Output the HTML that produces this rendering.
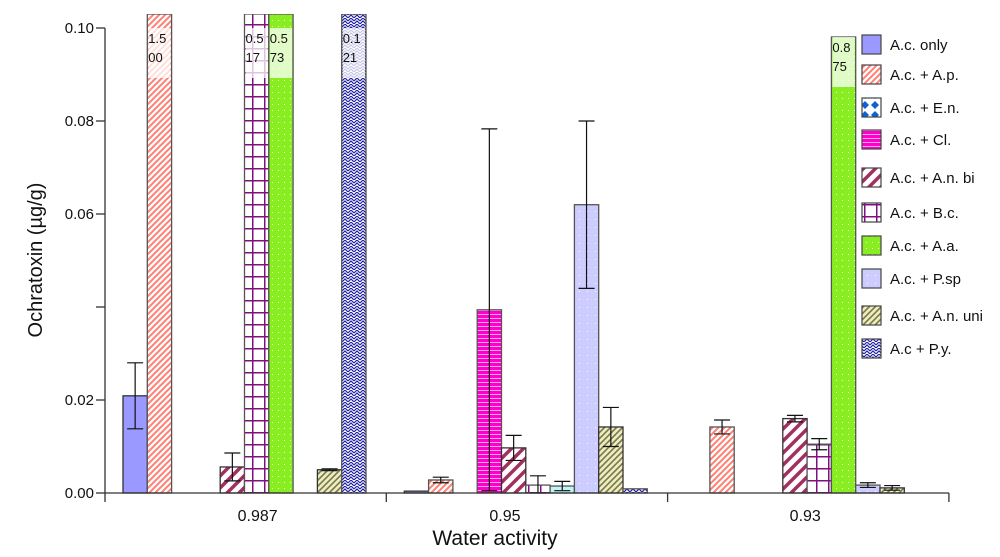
<!DOCTYPE html>
<html><head><meta charset="utf-8"><style>
body{margin:0;background:#fff;}
svg text{font-family:"Liberation Sans",sans-serif;fill:#111;}
</style></head><body>
<svg id="chart" width="1000" height="552" viewBox="0 0 1000 552" xmlns="http://www.w3.org/2000/svg">
<defs>
<pattern id="p0" width="6" height="6" patternUnits="userSpaceOnUse"><rect width="6" height="6" fill="#9999ff"/></pattern>
<pattern id="p1" width="6" height="6" patternUnits="userSpaceOnUse"><rect width="6" height="6" fill="#fff"/><path d="M-1,1 L1,-1 M0,6 L6,0 M5,7 L7,5" stroke="#ff7f73" stroke-width="2"/></pattern>
<pattern id="p2" width="10" height="10" patternUnits="userSpaceOnUse"><rect width="10" height="10" fill="#fff"/><path d="M5,1 L9,5 L5,9 L1,5Z" fill="#1060d0"/></pattern>
<pattern id="p3" width="6" height="4" patternUnits="userSpaceOnUse"><rect width="6" height="4" fill="#ff00cc"/><rect y="2" width="6" height="1" fill="#ffaaee"/></pattern>
<pattern id="p4" width="12" height="12" patternUnits="userSpaceOnUse"><rect width="12" height="12" fill="#fff"/><path d="M-3,3 L3,-3 M0,12 L12,0 M9,15 L15,9" stroke="#a03060" stroke-width="3.5"/></pattern>
<pattern id="p5" width="12" height="12" patternUnits="userSpaceOnUse"><rect width="12" height="12" fill="#fff"/><path d="M0,0.75 H12 M0.75,0 V12" stroke="#801080" stroke-width="1.5"/></pattern>
<pattern id="p6" width="6" height="6" patternUnits="userSpaceOnUse"><rect width="6" height="6" fill="#88ee22"/><rect x="2" y="2" width="1" height="1" fill="#eaffd0"/></pattern>
<pattern id="p7" width="8" height="8" patternUnits="userSpaceOnUse"><rect width="8" height="8" fill="#ccccff"/><rect x="3" y="3" width="1" height="1" fill="#fff"/></pattern>
<pattern id="p8" width="6" height="6" patternUnits="userSpaceOnUse"><rect width="6" height="6" fill="#eeeebb"/><path d="M-1,1 L1,-1 M0,6 L6,0 M5,7 L7,5" stroke="#777755" stroke-width="1.6"/></pattern>
<pattern id="p9" width="6" height="6" patternUnits="userSpaceOnUse"><rect width="6" height="6" fill="#fff"/><path d="M0,3 L3,0 L6,3 M0,6 L3,3 L6,6" stroke="#2020a0" stroke-width="1.2" fill="none"/></pattern>
<pattern id="pcyan" width="6" height="6" patternUnits="userSpaceOnUse"><rect width="6" height="6" fill="#bff5f5"/></pattern>
<clipPath id="clip"><rect x="105" y="14" width="850" height="480"/></clipPath>
</defs>
<g id="bars" clip-path="url(#clip)"></g>
<g id="axes"></g>
<g id="legend"></g>
<text x="42" y="260" font-size="20" text-anchor="middle" transform="rotate(-90 42 260)">Ochratoxin (µg/g)</text>
<text x="495" y="545" font-size="21" text-anchor="middle">Water activity</text>
</svg>
<script>
const categories = ["0.987", "0.95", "0.93"];
const series = ["A.c. only","A.c. + A.p.","A.c. + E.n.","A.c. + Cl.","A.c. + A.n. bi","A.c. + B.c.","A.c. + A.a.","A.c. + P.sp","A.c. + A.n. uni","A.c + P.y."];
const values987 = [0.0209, 1.500, 0, 0, 0.0056, 0.517, 0.573, 0, 0.0050, 0.121];
const errors987 = [0.0071, 0, 0, 0, 0.0030, 0, 0, 0, 0.0002, 0];
const values95 = [0.0004, 0.0028, 0, 0.0394, 0.0097, 0.0017, 0.0015, 0.0620, 0.0142, 0.0009];
const errors95 = [0, 0.0006, 0, 0.0389, 0.0027, 0.0020, 0.0010, 0.0180, 0.0042, 0];
const values93 = [0, 0.0142, 0, 0, 0.0160, 0.0105, 0.875, 0.0017, 0.0011, 0];
const errors93 = [0, 0.0015, 0, 0, 0.0007, 0.0012, 0, 0.0005, 0.0005, 0];
const yTicks = [0, 0.02, 0.04, 0.06, 0.08, 0.10];
const yTickLabels = ["0.00", "0.02", "", "0.06", "0.08", "0.10"];

const NS = "http://www.w3.org/2000/svg";
const Y0 = 493, YTOP = 28, YMAX = 0.10;
const y = v => Y0 - (v / YMAX) * (Y0 - YTOP);
const GX0 = 105, GW = 281.3, BW = 24.3, BOFF = 18;
const bx = (g, s) => GX0 + g * GW + BOFF + s * BW;
const fills = ["p0","p1","p2","p3","p4","p5","p6","p7","p8","p9"];
const strokes = ["#333","#555","#333","#555","#333","#555","#555","#555","#333","#555"];
function mk(tag, attrs, parent){const e=document.createElementNS(NS,tag);for(const k in attrs)e.setAttribute(k,attrs[k]);parent.appendChild(e);return e;}
const barsG = document.getElementById('bars'), axesG = document.getElementById('axes'), legG = document.getElementById('legend');
const allVals = [values987, values95, values93], allErr = [errors987, errors95, errors93];

allVals.forEach((vals, g) => {
  vals.forEach((v, s) => {
    if (v <= 0) return;
    const x = bx(g, s);
    let fill = fills[s];
    if (g === 1 && s === 6) fill = "pcyan";
    const top = Math.max(y(v), 14);
    const r = mk('rect', {x: x, y: top, width: BW, height: Y0 - top, fill: 'url(#' + fill + ')', stroke: strokes[s], 'stroke-width': 1.3}, barsG);
    
    
    if (v > YMAX) {
      const ly = (g === 2) ? 37 : 28;
      const top2 = g === 2 ? ly : 14;
      r.setAttribute('y', top2); r.setAttribute('height', Y0 - top2);
      mk('rect', {x: x + 1, y: ly, width: BW - 2, height: 50, fill: '#fff', opacity: 0.75}, barsG);
      const s1 = v.toFixed(3);
      const t1 = mk('text', {x: x + 1, y: ly + 15, 'font-size': 13}, barsG);
      t1.textContent = s1.slice(0, 3);
      
      
      const t2 = mk('text', {x: x + 1, y: ly + 34, 'font-size': 13}, barsG);
      t2.textContent = s1.slice(3);
      
      
    }
    const e = allErr[g][s];
    if (e > 0) {
      const cx = x + BW / 2;
      const y1 = y(v + e), y2 = Math.min(y(v - e), Y0);
      const eg = mk('path', {d: `M${cx},${y1} V${y2} M${cx-8},${y1} H${cx+8} M${cx-8},${y2} H${cx+8}`, stroke: '#111', 'stroke-width': 1.2, fill: 'none'}, barsG);
      
      
    }
  });
});

// axes
mk('path', {d: `M105,${YTOP} V${Y0} H949`, stroke: '#333', 'stroke-width': 1.3, fill: 'none'}, axesG);
yTicks.forEach((t, i) => {
  const yy = y(t);
  mk('line', {x1: 96, x2: 105, y1: yy, y2: yy, stroke: '#333', 'stroke-width': 1.3}, axesG);
  if (yTickLabels[i]) {
    const tl = mk('text', {x: 94, y: yy + 5, 'font-size': 15, 'text-anchor': 'end'}, axesG);
    tl.textContent = yTickLabels[i];
    
    
  }
});
for (let g = 0; g <= categories.length; g++) {
  const xx = GX0 + g * GW;
  mk('line', {x1: xx, x2: xx, y1: Y0, y2: Y0 + 9, stroke: '#333', 'stroke-width': 1.3}, axesG);
}
const labelShift = [12, -22, -3];
categories.forEach((c, g) => {
  const tl = mk('text', {x: GX0 + g * GW + GW / 2 + labelShift[g], y: 521, 'font-size': 16, 'text-anchor': 'middle'}, axesG);
  tl.textContent = c;
  
  
});

// legend
const legY = [45, 75, 108, 140, 178, 213, 246, 279, 316, 349];
series.forEach((s, i) => {
  const g = mk('g', {}, legG);
  
  
  mk('rect', {x: 862, y: legY[i] - 10, width: 19, height: 19, fill: 'url(#' + fills[i] + ')', stroke: '#444', 'stroke-width': 1.2}, g);
  const t = mk('text', {x: 890, y: legY[i] + 5, 'font-size': 15}, g);
  t.textContent = s;
});
</script>
</body></html>
